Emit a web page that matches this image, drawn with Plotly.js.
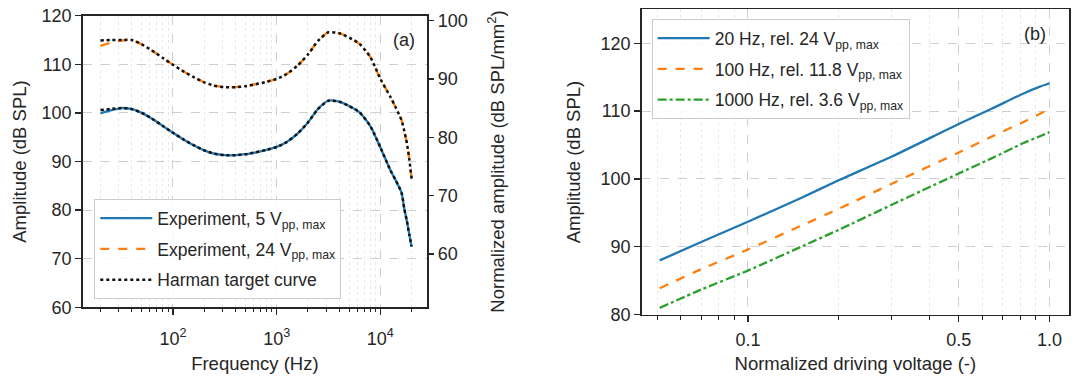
<!DOCTYPE html>
<html>
<head>
<meta charset="utf-8">
<script src="https://cdn.plot.ly/plotly-3.0.1.min.js"></script>
<style>html,body{margin:0;padding:0;background:#fff;}#chart{width:1080px;height:382px;}</style>
</head>
<body>
<div id="chart"></div>
<script>
// ---- Panel (a): frequency response ----
const freqHz = [20, 25, 32, 40, 50, 63, 80, 100, 125, 160, 200, 250, 315, 400, 500, 630, 800, 1000, 1250, 1600, 2000, 2500, 3150, 4000, 5000, 6300, 8000, 10000, 12500, 14000, 16000, 17000, 18000, 19000, 20000];
const exp5V = [99.9, 100.5, 101.0, 100.8, 100.0, 98.8, 97.3, 95.9, 94.6, 93.3, 92.3, 91.6, 91.3, 91.3, 91.5, 91.9, 92.4, 93.0, 94.0, 95.8, 98.0, 100.8, 102.5, 102.3, 101.4, 100.1, 97.3, 92.9, 88.2, 86.2, 83.6, 80.3, 77.8, 75.0, 72.5];
const exp24V = [113.8, 114.4, 114.9, 115.0, 114.1, 112.8, 111.3, 109.9, 108.6, 107.3, 106.3, 105.6, 105.3, 105.3, 105.5, 105.9, 106.4, 107.0, 108.0, 109.8, 112.0, 114.8, 116.6, 116.4, 115.5, 114.2, 111.5, 107.0, 103.3, 101.2, 98.5, 96.3, 93.8, 90.5, 86.5];
const harman5V = [100.6, 100.8, 101.0, 100.8, 100.0, 98.8, 97.3, 95.9, 94.6, 93.3, 92.3, 91.6, 91.3, 91.3, 91.5, 91.9, 92.4, 93.0, 94.0, 95.8, 98.0, 100.8, 102.5, 102.3, 101.4, 100.1, 97.3, 92.9, 88.2, 86.2, 83.6, 80.3, 77.8, 75.0, 72.5];
const harman24V = [114.9, 115.0, 115.0, 115.0, 114.1, 112.8, 111.3, 109.9, 108.6, 107.3, 106.3, 105.6, 105.3, 105.3, 105.5, 105.9, 106.4, 107.0, 108.0, 109.8, 112.0, 114.8, 116.6, 116.4, 115.5, 114.2, 111.5, 107.0, 103.3, 101.2, 98.5, 96.3, 93.8, 90.5, 86.5];
const freqTickVals = [100, 1000, 10000];
const freqTickText = ['10<sup>2</sup>', '10<sup>3</sup>', '10<sup>4</sup>'];
const freqMinorVals = [20, 30, 40, 50, 60, 70, 80, 90, 200, 300, 400, 500, 600, 700, 800, 900, 2000, 3000, 4000, 5000, 6000, 7000, 8000, 9000, 20000];
const ampTickVals = [60, 70, 80, 90, 100, 110, 120];
const normAmpTickVals = [60, 70, 80, 90, 100];

// ---- Panel (b): amplitude vs normalized driving voltage ----
const voltNorm = [0.051, 0.07, 0.1, 0.15, 0.2, 0.3, 0.5, 0.64, 0.82, 0.93, 1.0];
const amp20Hz = [88.0, 90.7, 93.7, 97.2, 99.8, 103.3, 108.1, 110.3, 112.6, 113.6, 114.1];
const amp100Hz = [83.9, 86.7, 89.6, 93.1, 95.6, 99.3, 103.9, 106.2, 108.4, 109.6, 110.3];
const amp1000Hz = [81.0, 83.7, 86.5, 90.0, 92.5, 96.2, 100.8, 103.0, 105.3, 106.3, 106.9];
const voltTickVals = [0.1, 0.5, 1.0];
const voltTickText = ['0.1', '0.5', '1.0'];
const voltMinorVals = [0.05, 0.06, 0.07, 0.08, 0.09, 0.2, 0.3, 0.4, 0.6, 0.7, 0.8, 0.9];
const ampBTickVals = [80, 90, 100, 110, 120];

const C_BLUE = '#1f77b4', C_ORANGE = '#ff7f0e', C_GREEN = '#2ca02c';
const FONT = 'Liberation Sans, Arial, sans-serif';
const TXT = '#262626';
const SUB = 'pp, max';
const LW = 2.3;

const traces = [
  {x: freqHz, y: exp5V, type: 'scatter', mode: 'lines', xaxis: 'x', yaxis: 'y',
   name: 'Experiment, 5 V<sub>' + SUB + '</sub>', legendgroup: 'a1', legend: 'legend',
   line: {color: C_BLUE, width: LW, shape: 'spline', smoothing: 0.6}},
  {x: freqHz, y: exp24V, type: 'scatter', mode: 'lines', xaxis: 'x', yaxis: 'y',
   name: 'Experiment, 24 V<sub>' + SUB + '</sub>', legendgroup: 'a2', legend: 'legend',
   line: {color: C_ORANGE, width: LW, dash: 'dash', shape: 'spline', smoothing: 0.6}},
  {x: freqHz, y: harman5V, type: 'scatter', mode: 'lines', xaxis: 'x', yaxis: 'y',
   name: 'Harman target curve', legendgroup: 'a3', legend: 'legend',
   line: {color: '#111111', width: 2.5, dash: 'dot', shape: 'spline', smoothing: 0.6}},
  {x: freqHz, y: harman24V, type: 'scatter', mode: 'lines', xaxis: 'x', yaxis: 'y',
   name: 'Harman target curve', legendgroup: 'a3', showlegend: false,
   line: {color: '#111111', width: 2.5, dash: 'dot', shape: 'spline', smoothing: 0.6}},
  // secondary (normalized) axis of panel (a): carries no marks, only registers the axis
  {x: [], y: [], type: 'scatter', mode: 'lines', xaxis: 'x', yaxis: 'y2',
   showlegend: false, hoverinfo: 'skip'},
  {x: voltNorm, y: amp20Hz, type: 'scatter', mode: 'lines', xaxis: 'x2', yaxis: 'y3',
   name: '20 Hz, rel. 24 V<sub>' + SUB + '</sub>', legendgroup: 'b1', legend: 'legend2',
   line: {color: C_BLUE, width: LW, shape: 'spline', smoothing: 0.6}},
  {x: voltNorm, y: amp100Hz, type: 'scatter', mode: 'lines', xaxis: 'x2', yaxis: 'y3',
   name: '100 Hz, rel. 11.8 V<sub>' + SUB + '</sub>', legendgroup: 'b2', legend: 'legend2',
   line: {color: C_ORANGE, width: LW, dash: 'dash', shape: 'spline', smoothing: 0.6}},
  {x: voltNorm, y: amp1000Hz, type: 'scatter', mode: 'lines', xaxis: 'x2', yaxis: 'y3',
   name: '1000 Hz, rel. 3.6 V<sub>' + SUB + '</sub>', legendgroup: 'b3', legend: 'legend2',
   line: {color: C_GREEN, width: LW, dash: 'dashdot', shape: 'spline', smoothing: 0.6}}
];

const TICKFONT = {family: FONT, size: 18, color: TXT};
const TITLEFONT = {family: FONT, size: 18.5, color: TXT};
const LEGFONT = {family: FONT, size: 17.5, color: TXT};

const axisBase = {
  showline: true, linecolor: TXT, linewidth: 1.6, mirror: true,
  ticks: 'outside', ticklen: 6, tickwidth: 1.3, tickcolor: TXT,
  tickfont: TICKFONT,
  showgrid: true, gridcolor: '#cfcfcf', gridwidth: 1, griddash: 'dash',
  zeroline: false, automargin: false
};
const minorBase = {ticks: 'outside', ticklen: 3.5, tickwidth: 1, tickcolor: TXT,
  showgrid: true, gridcolor: '#e3e3e3', gridwidth: 0.8, griddash: 'dot', tickmode: 'array'};

const legendBase = {
  xanchor: 'left', yanchor: 'top',
  bgcolor: 'rgba(255,255,255,0.85)', bordercolor: '#cccccc', borderwidth: 1,
  font: LEGFONT, itemwidth: 52,
  traceorder: 'grouped', tracegroupgap: 5, itemclick: false
};

const layout = {
  width: 1080, height: 382,
  margin: {l: 0, r: 0, t: 0, b: 0},
  paper_bgcolor: '#ffffff', plot_bgcolor: '#ffffff',
  font: {family: FONT, size: 18, color: TXT},
  xaxis: Object.assign({}, axisBase, {
    domain: [0.0766, 0.3954], anchor: 'y', type: 'log', range: [1.13, 4.45],
    tickmode: 'array', tickvals: freqTickVals, ticktext: freqTickText, ticklabelstandoff: 8,
    minor: Object.assign({}, minorBase, {tickvals: freqMinorVals}),
    title: {text: 'Frequency (Hz)', font: TITLEFONT, standoff: 9}
  }),
  yaxis: Object.assign({}, axisBase, {
    domain: [0.1955, 0.9589], anchor: 'x', range: [60, 120],
    tickmode: 'array', tickvals: ampTickVals,
    title: {text: 'Amplitude (dB SPL)', font: TITLEFONT, standoff: 10}
  }),
  yaxis2: {
    overlaying: 'y', anchor: 'x', side: 'right', range: [50.86, 100.86],
    tickmode: 'array', tickvals: normAmpTickVals,
    ticks: 'outside', ticklen: 6, tickwidth: 1.3, tickcolor: TXT,
    tickfont: TICKFONT,
    showgrid: false, zeroline: false, showline: false, automargin: false,
    title: {text: 'Normalized amplitude (dB SPL/mm<sup>2</sup>)', font: TITLEFONT, standoff: 24}
  },
  xaxis2: Object.assign({}, axisBase, {
    domain: [0.5942, 0.9898], anchor: 'y3', type: 'log', range: [-1.352, 0.0646],
    tickmode: 'array', tickvals: voltTickVals, ticktext: voltTickText, ticklabelstandoff: 2,
    minor: Object.assign({}, minorBase, {tickvals: voltMinorVals}),
    title: {text: 'Normalized driving voltage (-)', font: TITLEFONT, standoff: 8}
  }),
  yaxis3: Object.assign({}, axisBase, {
    domain: [0.1762, 0.9757], anchor: 'x2', range: [80, 125],
    tickmode: 'array', tickvals: ampBTickVals,
    title: {text: 'Amplitude (dB SPL)', font: TITLEFONT, standoff: 15}
  }),
  legend: Object.assign({}, legendBase, {x: 0.0873, y: 0.4783}),
  legend2: Object.assign({}, legendBase, {x: 0.6034, y: 0.9495}),
  annotations: [
    {text: '(a)', xref: 'paper', yref: 'paper', x: 0.374, y: 0.8953, xanchor: 'center', yanchor: 'middle',
     showarrow: false, font: TICKFONT},
    {text: '(b)', xref: 'paper', yref: 'paper', x: 0.9583, y: 0.911, xanchor: 'center', yanchor: 'middle',
     showarrow: false, font: TICKFONT}
  ],
  showlegend: true
};

Plotly.newPlot('chart', traces, layout, {displayModeBar: false, staticPlot: true});
</script>
</body>
</html>
